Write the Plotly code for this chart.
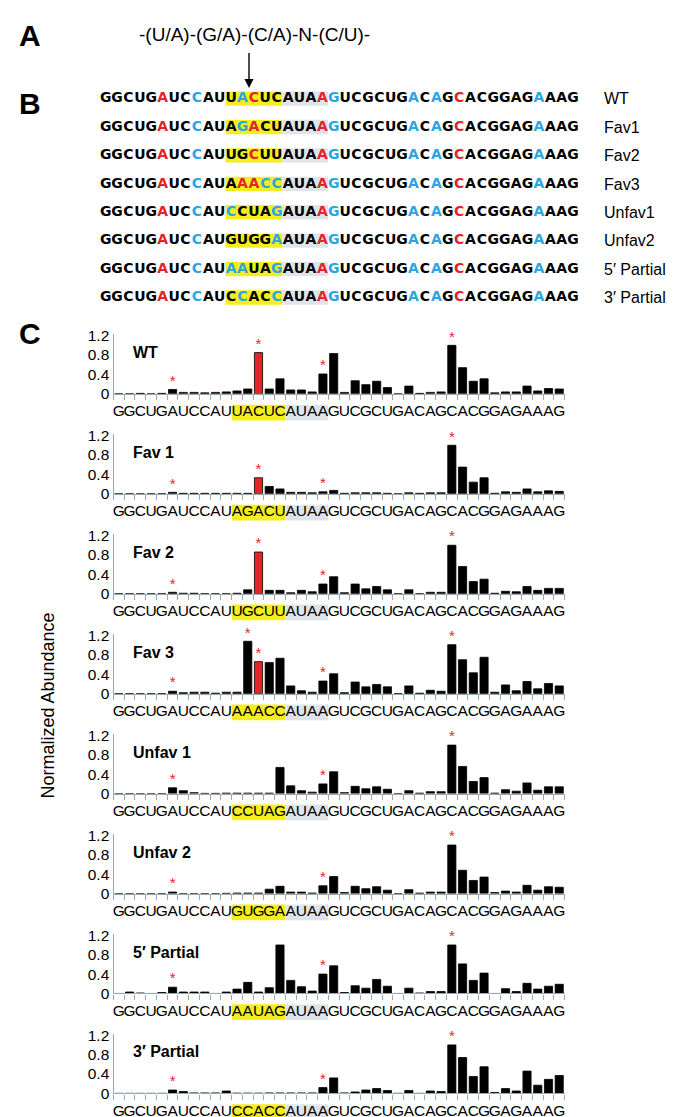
import plotly.graph_objects as go

W, H = 679, 1117

# ---------------- data ----------------
WT_SEQ = "GGCUGAUCCAUUACUCAUAAGUCGCUGACAGCACGGAGAAAG"
ROW_LABELS = ["WT", "Fav1", "Fav2", "Fav3", "Unfav1", "Unfav2", "5′ Partial", "3′ Partial"]
PANEL_TITLES = ["WT", "Fav 1", "Fav 2", "Fav 3", "Unfav 1", "Unfav 2", "5′ Partial", "3′ Partial"]
MOTIFS = ["UACUC", "AGACU", "UGCUU", "AAACC", "CCUAG", "GUGGA", "AAUAG", "CCACC"]
MOTIF_START, MOTIF_END = 12, 16          # 1-based positions of the mutated pentamer
LINKER_START, LINKER_END = 17, 20        # grey-shaded AUAA
MOTIF_TEXT = "-(U/A)-(G/A)-(C/A)-N-(C/U)-"
# letter colour codes for the pentamer in each row (k black, r red, b blue)
MOTIF_COLORS = ["kbrkk", "kbrkk", "kkrkk", "krrbb", "bkkkb", "kkkkb", "bbkkb", "kbkkb"]
RED_SITES = [6, 20, 32]
BLUE_SITES = [9, 21, 28, 30, 39]

WT = [0, 0, 0.01, 0, 0.01, 0.09, 0.03, 0.03, 0.02, 0.03, 0.04, 0.06, 0.10, 0.85, 0.10,
      0.31, 0.08, 0.08, 0.04, 0.41, 0.83, 0.03, 0.27, 0.19, 0.26, 0.13, 0, 0.16, 0.01, 0.03,
      0.04, 1.0, 0.54, 0.26, 0.31, 0.02, 0.04, 0.04, 0.16, 0.06, 0.11, 0.10]
FAV1 = [0, 0, 0, 0, 0, 0.03, 0.01, 0.01, 0.01, 0.01, 0.01, 0.01, 0.01, 0.33, 0.15,
        0.10, 0.03, 0.03, 0.02, 0.04, 0.07, 0.01, 0.02, 0.02, 0.02, 0.01, 0, 0.02, 0.01, 0.02,
        0.02, 1.0, 0.55, 0.24, 0.33, 0.01, 0.04, 0.03, 0.10, 0.04, 0.06, 0.05]
FAV2 = [0, 0, 0, 0, 0, 0.03, 0.01, 0.01, 0, 0, 0, 0.01, 0.08, 0.86, 0.07,
        0.07, 0.02, 0.07, 0.04, 0.20, 0.35, 0.02, 0.20, 0.10, 0.15, 0.08, 0, 0.08, 0, 0.03,
        0.03, 1.0, 0.56, 0.25, 0.30, 0.01, 0.05, 0.04, 0.15, 0.07, 0.11, 0.11]
FAV3 = [0, 0, 0, 0, 0, 0.05, 0.02, 0.03, 0.03, 0.01, 0.03, 0.03, 1.08, 0.66, 0.64,
        0.73, 0.16, 0.06, 0.03, 0.26, 0.41, 0.02, 0.24, 0.14, 0.19, 0.14, 0, 0.16, 0.01, 0.07,
        0.05, 1.01, 0.70, 0.43, 0.75, 0.03, 0.18, 0.06, 0.25, 0.10, 0.21, 0.16]
UNFAV1 = [0, 0, 0, 0, 0, 0.12, 0.06, 0.02, 0.005, 0.005, 0.01, 0.01, 0.01, 0.01, 0.01,
          0.54, 0.16, 0.06, 0.03, 0.20, 0.45, 0.02, 0.15, 0.10, 0.14, 0.09, 0, 0.06, 0.01, 0.04,
          0.04, 1.0, 0.56, 0.25, 0.33, 0.01, 0.08, 0.05, 0.22, 0.07, 0.14, 0.14]
UNFAV2 = [0, 0, 0, 0, 0, 0.03, 0, 0, 0, 0, 0.005, 0.01, 0.01, 0.01, 0.09,
          0.15, 0.03, 0.03, 0.01, 0.16, 0.35, 0.02, 0.15, 0.10, 0.14, 0.07, 0, 0.08, 0.01, 0.03,
          0.03, 1.0, 0.48, 0.27, 0.34, 0.02, 0.05, 0.03, 0.17, 0.07, 0.14, 0.13]
PARTIAL5 = [0, 0.03, 0.01, 0, 0.02, 0.13, 0.03, 0.03, 0.03, 0, 0.03, 0.09, 0.23, 0.03, 0.12,
            1.0, 0.27, 0.14, 0.05, 0.40, 0.57, 0.02, 0.16, 0.11, 0.29, 0.15, 0, 0.11, 0.01, 0.04,
            0.04, 1.0, 0.61, 0.27, 0.42, 0, 0.10, 0.04, 0.21, 0.09, 0.15, 0.19]
PARTIAL3 = [0, 0, 0, 0, 0, 0.07, 0.04, 0.01, 0.01, 0.01, 0.05, 0.005, 0.005, 0.005, 0.01,
            0.01, 0.01, 0.01, 0.01, 0.12, 0.32, 0.01, 0.03, 0.07, 0.10, 0.06, 0, 0.06, 0, 0.05,
            0.04, 1.0, 0.74, 0.35, 0.55, 0.02, 0.10, 0.05, 0.46, 0.17, 0.29, 0.37]
ABUNDANCE = [WT, FAV1, FAV2, FAV3, UNFAV1, UNFAV2, PARTIAL5, PARTIAL3]
STAR_SITES = [[6, 14, 20, 32], [6, 14, 20, 32], [6, 14, 20, 32], [6, 13, 14, 20, 32],
              [6, 20, 32], [6, 20, 32], [6, 20, 32], [6, 20, 32]]
RED_BAR = [14, 14, 14, 14, None, None, None, None]
Y_TICKS = [0, 0.4, 0.8, 1.2]

# ---------------- style ----------------
RED = "#e5242a"
BLUE = "#2ba6e2"
YELLOW = "#f5ee1f"
GREY_HL = "#dfe4ea"
AXC = "#97a9b3"
SANS = "Liberation Sans, Arial, sans-serif"
CODE = {"k": "black", "r": RED, "b": BLUE}

X0, X1 = 105.5, 556.6
ZEROS = [384 + 101.3 * i for i in range(8)]
UNIT = 59 / 1.2
YMAX = 1.23
SEQ_OFF = 19

B_X0, B_DX = 92.0, 11.4
B_Y0, B_DY = 85.0, 28.8


def py(p):
    return 1 - p / H


def variant_seq(i):
    return WT_SEQ[:MOTIF_START - 1] + MOTIFS[i] + WT_SEQ[MOTIF_END:]


def variant_colors(i):
    cols = []
    for pos in range(1, len(WT_SEQ) + 1):
        if MOTIF_START <= pos <= MOTIF_END:
            cols.append(CODE[MOTIF_COLORS[i][pos - MOTIF_START]])
        elif pos in RED_SITES:
            cols.append(RED)
        elif pos in BLUE_SITES:
            cols.append(BLUE)
        else:
            cols.append("black")
    return cols


fig = go.Figure()
layout = dict(width=W, height=H, margin=dict(l=0, r=0, t=0, b=0),
              paper_bgcolor="white", plot_bgcolor="rgba(0,0,0,0)", showlegend=False)
shapes = []
annotations = []

n_pos = len(WT_SEQ)
positions = list(range(1, n_pos + 1))
slot = (X1 - X0) / n_pos

# overlay axes in pixel units (for sequence text, panel letters, etc.)
layout["xaxis9"] = dict(domain=[0, 1], range=[0, W], anchor="y9", visible=False, fixedrange=True)
layout["yaxis9"] = dict(domain=[0, 1], range=[H, 0], anchor="x9", visible=False, fixedrange=True)

# ---------------- panel C: bar charts ----------------
for i in range(8):
    n = i + 1
    z = ZEROS[i]
    xs, ys = f"x{n}", f"y{n}"
    layout[f"xaxis{n}"] = dict(domain=[X0 / W, X1 / W], range=[0.5, n_pos + 0.5], anchor=ys,
                               showline=True, linecolor=AXC, linewidth=1.2,
                               ticks="outside", tickvals=[k + 0.5 for k in range(n_pos + 1)],
                               ticklen=5, tickcolor=AXC, tickwidth=1.2,
                               showticklabels=False, showgrid=False, zeroline=False)
    layout[f"yaxis{n}"] = dict(domain=[py(z), py(z - YMAX * UNIT)], range=[0, YMAX], anchor=xs,
                               showline=True, linecolor=AXC, linewidth=1.2, ticks="",
                               tickvals=Y_TICKS, ticktext=[f"{t:g}" for t in Y_TICKS],
                               tickfont=dict(family=SANS, size=15.5, color="black"),
                               showgrid=False, zeroline=False)
    vals = ABUNDANCE[i]
    colors = [RED if (RED_BAR[i] is not None and p == RED_BAR[i]) else "black" for p in positions]
    fig.add_trace(go.Bar(x=positions, y=vals, xaxis=xs, yaxis=ys, width=0.76,
                         marker=dict(color=colors, line=dict(color="black", width=0.8))))
    # red asterisks
    fig.add_trace(go.Scatter(x=STAR_SITES[i], y=[vals[s - 1] for s in STAR_SITES[i]],
                             xaxis=xs, yaxis=ys, mode="text", text=["*"] * len(STAR_SITES[i]),
                             textposition="top center", cliponaxis=False,
                             textfont=dict(family=SANS, size=15, color=RED)))
    # sequence under axis (drawn on the pixel overlay, one letter per bar slot)
    fig.add_trace(go.Scatter(x=[X0 + slot * (p - 0.5) for p in positions], y=[z + SEQ_OFF] * n_pos,
                             xaxis="x9", yaxis="y9", mode="text", text=list(variant_seq(i)),
                             cliponaxis=False, textposition="middle center",
                             textfont=dict(family=SANS, size=15.5, color="black")))
    shapes.append(dict(type="rect", xref=xs, yref="paper", x0=MOTIF_START - 0.5, x1=MOTIF_END + 0.5,
                       y0=py(z + SEQ_OFF + 8), y1=py(z + SEQ_OFF - 8), fillcolor=YELLOW,
                       line=dict(width=0), layer="below"))
    shapes.append(dict(type="rect", xref=xs, yref="paper", x0=LINKER_START - 0.5, x1=LINKER_END + 0.5,
                       y0=py(z + SEQ_OFF + 8), y1=py(z + SEQ_OFF - 8), fillcolor=GREY_HL,
                       line=dict(width=0), layer="below"))
    annotations.append(dict(xref="paper", yref="paper", x=123 / W, y=py(z - 42), text=f"<b>{PANEL_TITLES[i]}</b>",
                            showarrow=False, xanchor="left", yanchor="middle",
                            font=dict(family=SANS, size=16, color="black")))

# ---------------- panel B: sequences ----------------
for i in range(8):
    ry = B_Y0 + B_DY * i
    xs_b = [B_X0 + B_DX * (p - 0.5) for p in positions]
    fig.add_trace(go.Scatter(x=xs_b, y=[ry] * n_pos, xaxis="x9", yaxis="y9", mode="text",
                             text=list(variant_seq(i)), cliponaxis=False,
                             textfont=dict(family="DejaVu Sans", size=14, weight="bold",
                                           color=variant_colors(i))))
    shapes.append(dict(type="rect", xref="x9", yref="y9",
                       x0=B_X0 + B_DX * (MOTIF_START - 1), x1=B_X0 + B_DX * MOTIF_END,
                       y0=ry - 7.5, y1=ry + 7, fillcolor=YELLOW, line=dict(width=0), layer="below"))
    shapes.append(dict(type="rect", xref="x9", yref="y9",
                       x0=B_X0 + B_DX * MOTIF_END, x1=B_X0 + B_DX * LINKER_END,
                       y0=ry - 7.5, y1=ry + 7, fillcolor=GREY_HL, line=dict(width=0), layer="below"))
    annotations.append(dict(xref="x9", yref="y9", x=594, y=ry, text=ROW_LABELS[i], showarrow=False,
                            xanchor="left", yanchor="middle", font=dict(family=SANS, size=16, color="black")))

# panel letters
for lab, yy in [("A", 21), ("B", 90), ("C", 323)]:
    annotations.append(dict(xref="x9", yref="y9", x=9, y=yy, text=f"<b>{lab}</b>", showarrow=False,
                            xanchor="left", yanchor="middle", font=dict(family=SANS, size=30, color="black")))

# motif and arrow
annotations.append(dict(xref="x9", yref="y9", x=246, y=20, text=MOTIF_TEXT, showarrow=False,
                        xanchor="center", yanchor="middle", font=dict(family=SANS, size=19, color="black")))
annotations.append(dict(xref="x9", yref="y9", axref="x9", ayref="y9", x=241, y=74, ax=241, ay=37,
                        text="", showarrow=True, arrowhead=2, arrowsize=1.3, arrowwidth=1.4,
                        arrowcolor="black"))

# y-axis title
annotations.append(dict(xref="x9", yref="y9", x=40, y=700, text="Normalized Abundance", showarrow=False,
                        textangle=-90, xanchor="center", yanchor="middle",
                        font=dict(family=SANS, size=18, color="black")))

layout["shapes"] = shapes
layout["annotations"] = annotations
fig.update_layout(**layout)
fig.write_html("out.html")
